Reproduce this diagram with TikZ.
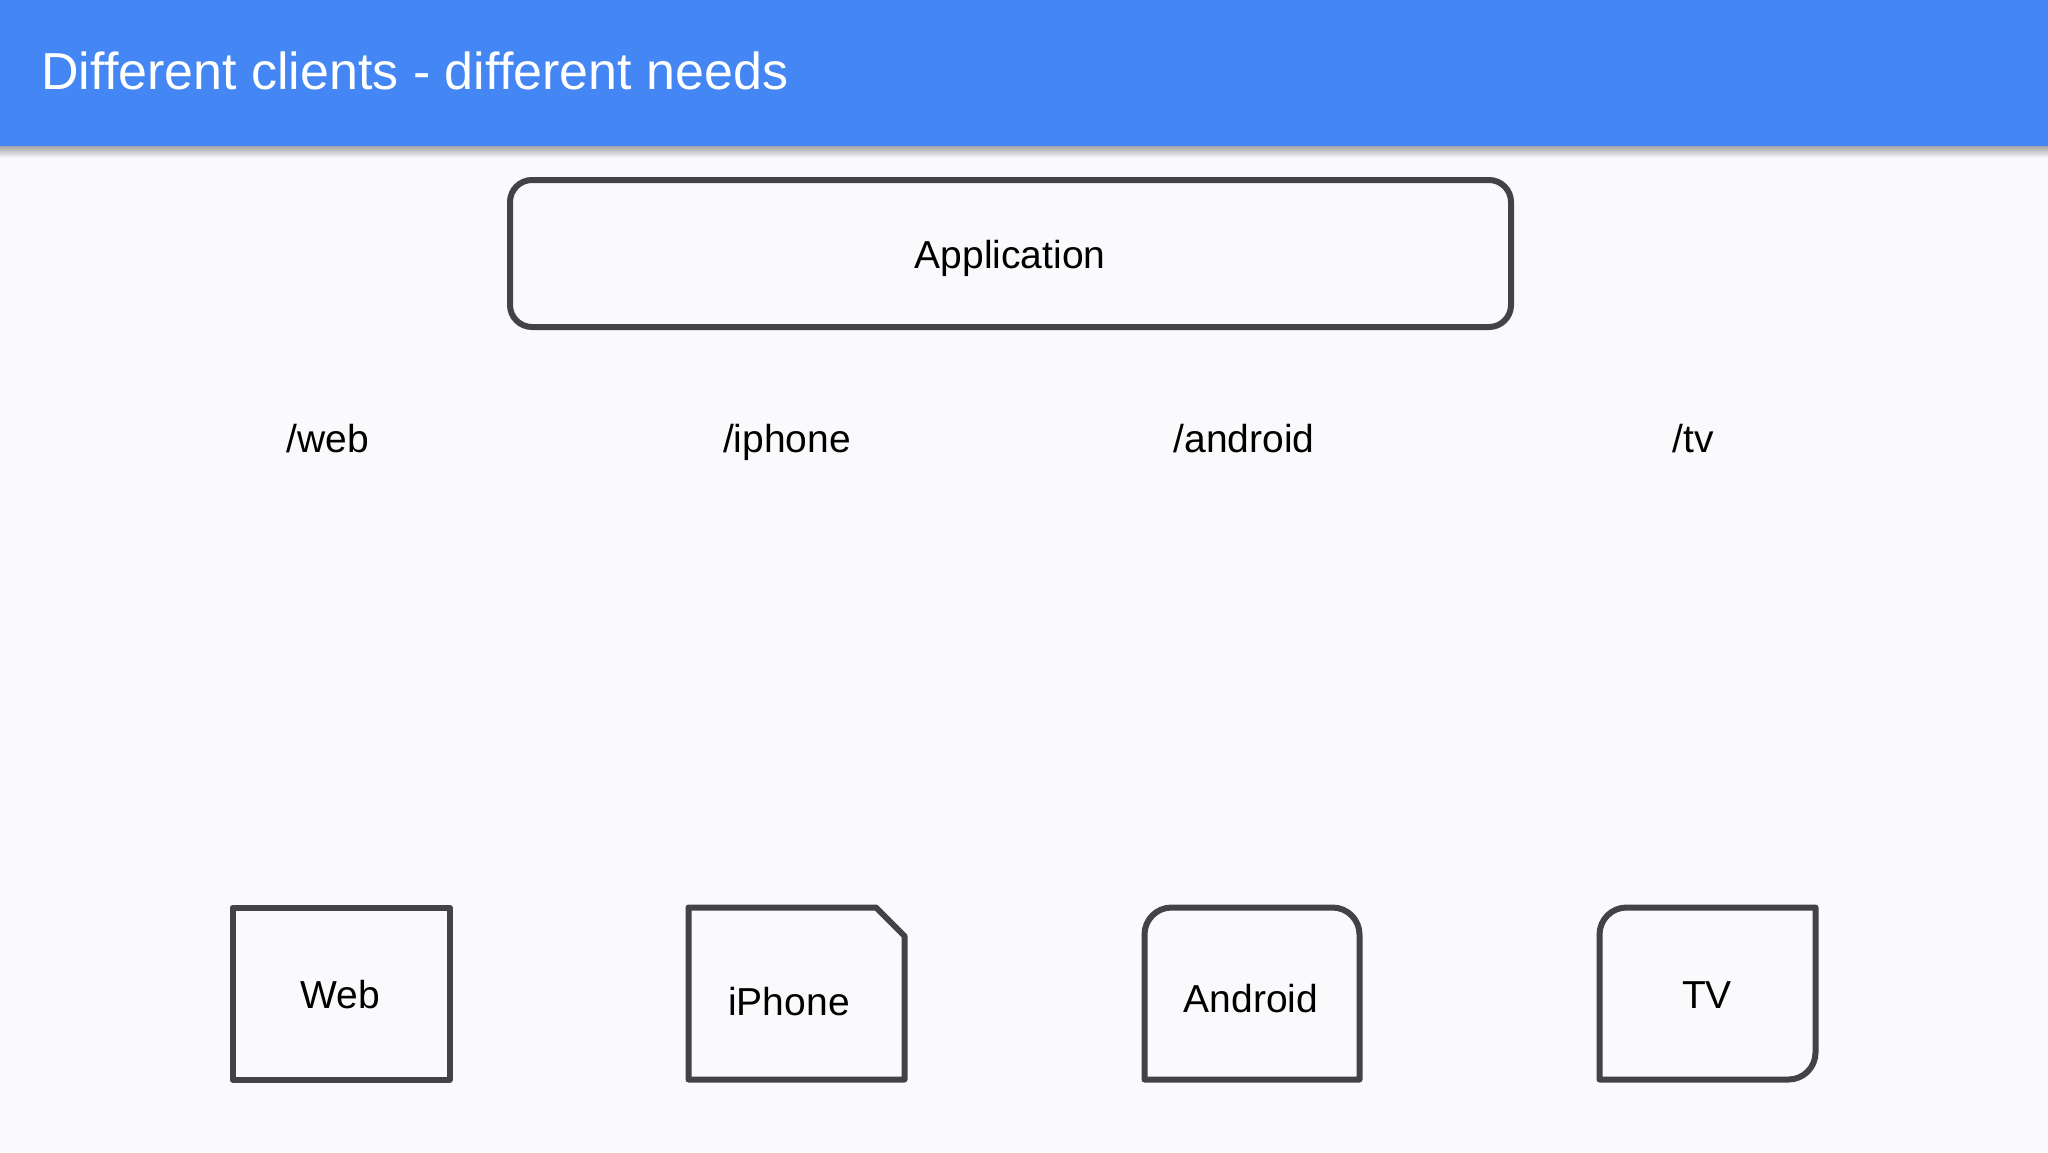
\documentclass[tikz,border=0pt]{standalone}
\usepackage{fontspec}
\setmainfont{Liberation Sans}
\definecolor{bg}{HTML}{FAF9FC}
\definecolor{hdr}{HTML}{4586F5}
\definecolor{strokec}{HTML}{444246}
\begin{document}
\begin{tikzpicture}[x=0.5pt,y=-0.5pt,
  box/.style={draw=strokec, line width=3pt, line join=round},
  lbl/.style={anchor=base, inner sep=0pt, text=black, font=\fontsize{19.5pt}{23pt}\selectfont}]
\useasboundingbox (0,0) rectangle (2048,1152);
\fill[bg] (0,0) rectangle (2048,1152);
\shade[top color=black!35, bottom color=bg] (0,146) rectangle (2048,158);
\fill[hdr] (0,0) rectangle (2048,146);
\node[anchor=base west, inner sep=0pt, text=white, font=\fontsize{26pt}{30pt}\selectfont] (title) at (41,89) {Different clients - different needs};

% Application
\draw[box, rounded corners=11pt] (510,180) rectangle (1511,327);
\node[lbl] (app) at (1010,268) {Application};

% endpoint labels
\node[lbl] (lweb) at (328,452) {/web};
\node[lbl] (liphone) at (787,452) {/iphone};
\node[lbl] (landroid) at (1244,452) {/android};
\node[lbl] (ltv) at (1693,452) {/tv};

% Web
\draw[box] (232.5,907.5) rectangle (449.5,1079.5);
\node[lbl] (web) at (340,1008) {Web};

% iPhone
\draw[box] (688.5,907.5) -- (876,907.5) -- (904.5,936) -- (904.5,1079.5) -- (688.5,1079.5) -- cycle;
\node[lbl] (iphone) at (789,1015) {iPhone};

% Android
\draw[box] (1144.5,1079.5) -- (1144.5,934.5) .. controls (1144.5,919.6) and (1156.6,907.5) .. (1171.5,907.5)
  -- (1332.5,907.5) .. controls (1347.4,907.5) and (1359.5,919.6) .. (1359.5,934.5) -- (1359.5,1079.5) -- cycle;
\node[lbl] (android) at (1251,1012) {Android};

% TV
\draw[box] (1599.5,1079.5) -- (1599.5,934.5) .. controls (1599.5,919.6) and (1611.6,907.5) .. (1626.5,907.5)
  -- (1815.5,907.5) -- (1815.5,1052.5) .. controls (1815.5,1067.4) and (1803.4,1079.5) .. (1788.5,1079.5) -- cycle;
\node[lbl] (tv) at (1707,1008) {TV};
\end{tikzpicture}
\end{document}
